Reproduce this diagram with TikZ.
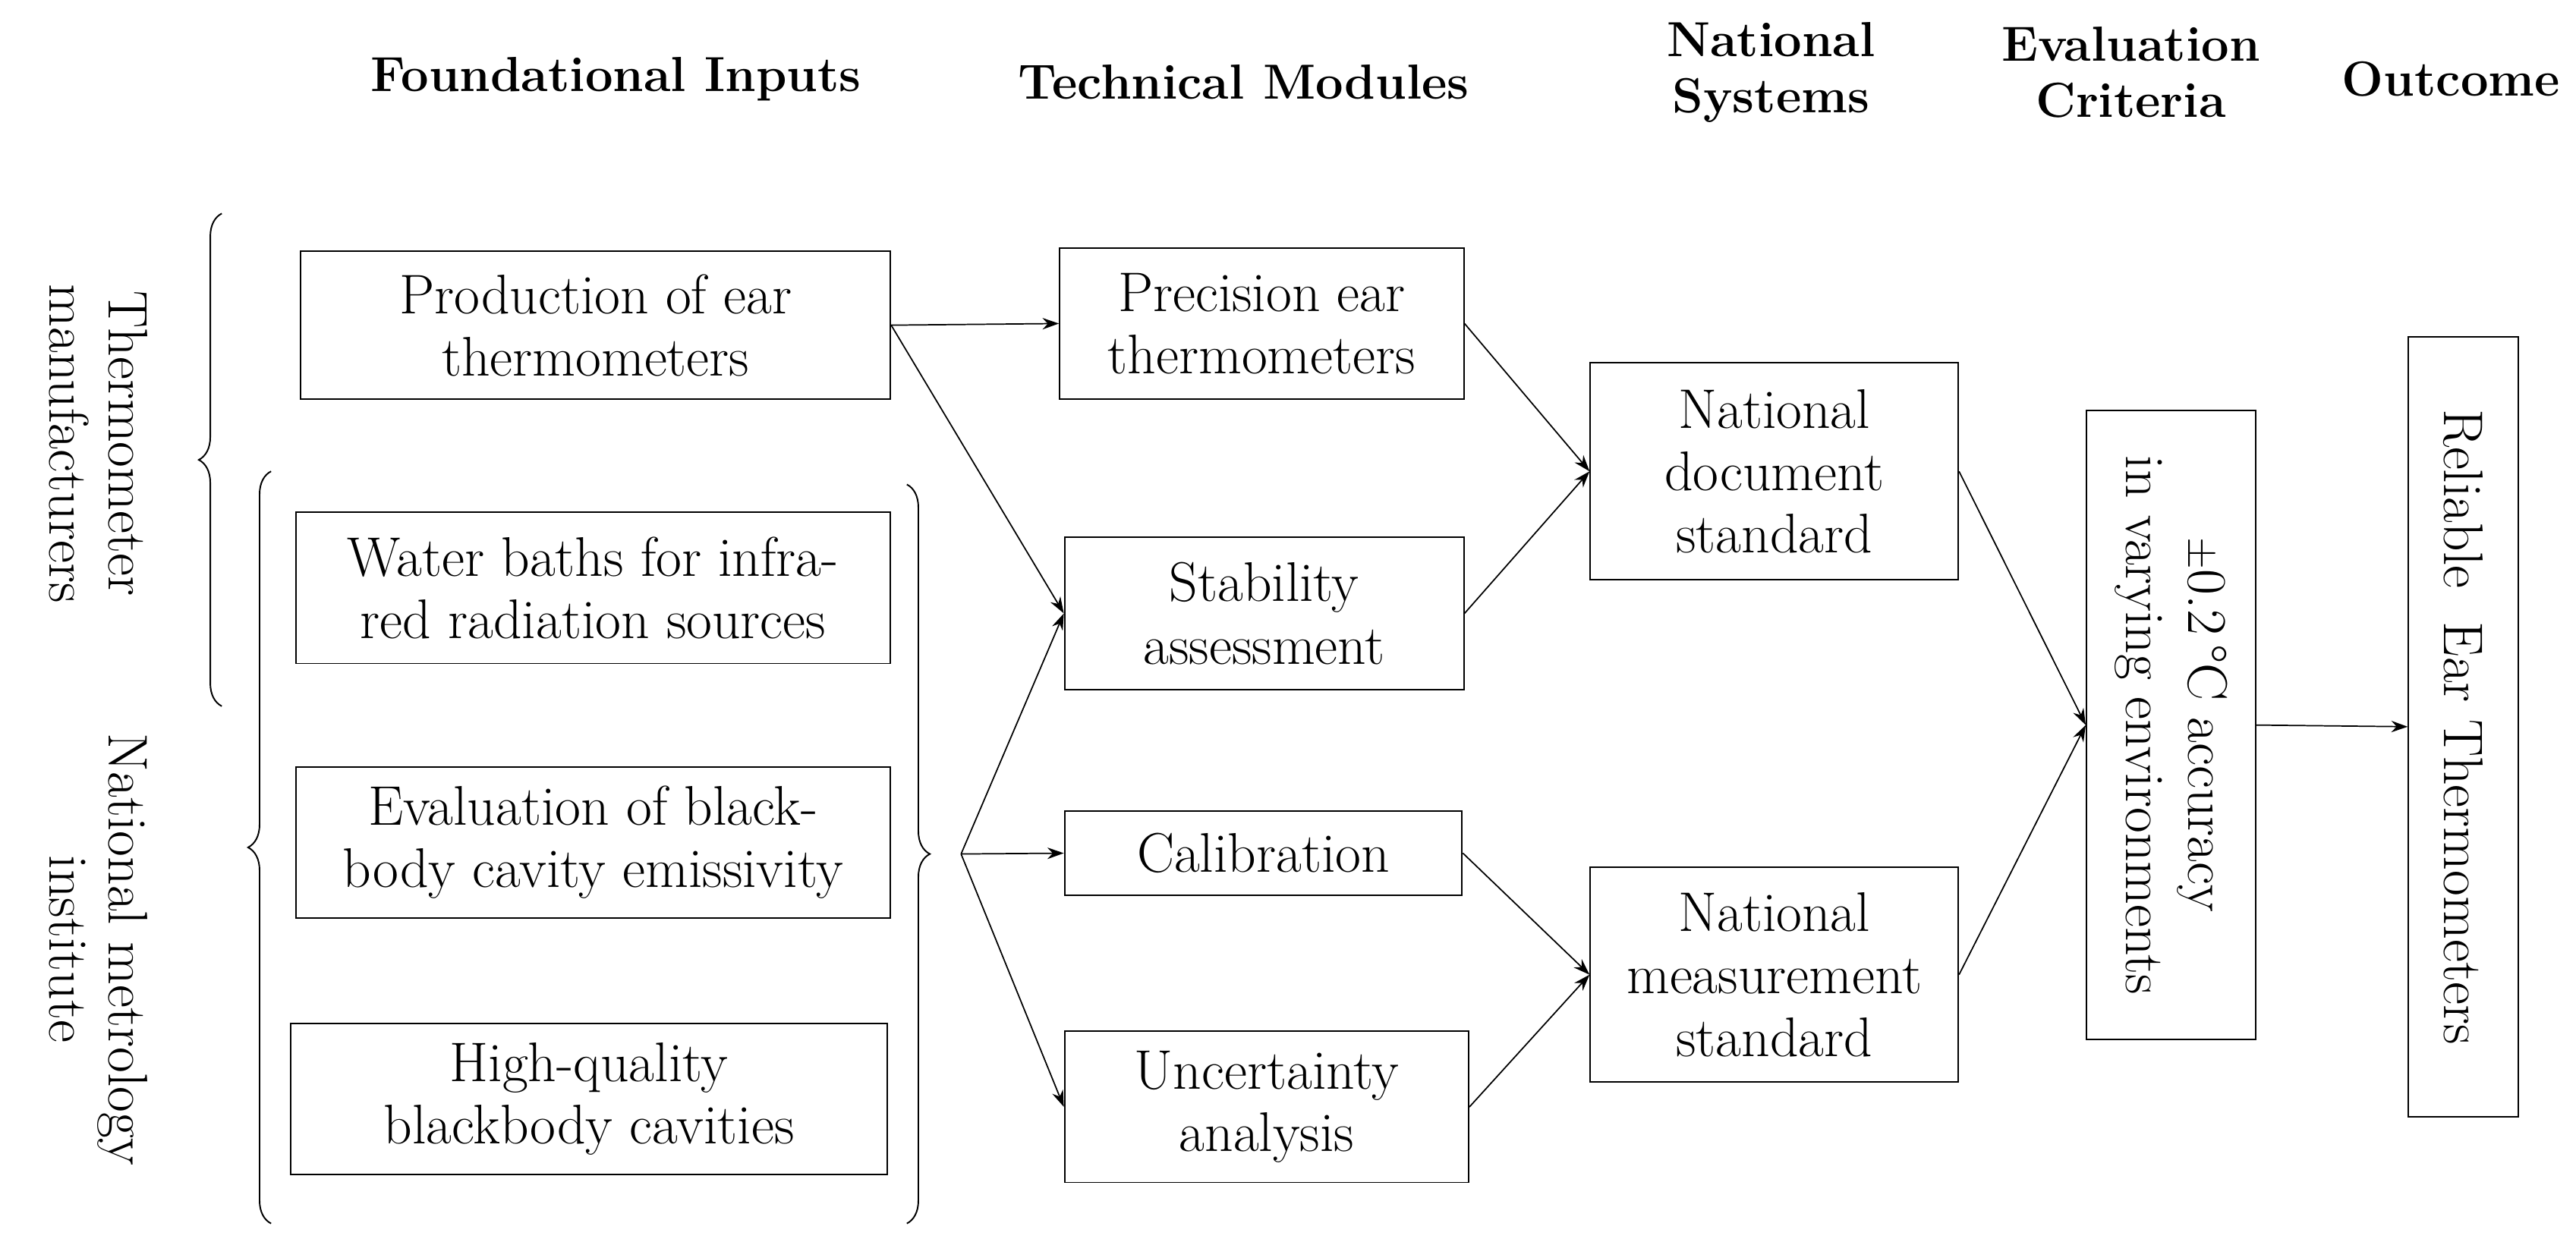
\documentclass[tikz,border=0pt]{standalone}
\usetikzlibrary{decorations.pathreplacing,arrows.meta}
\begin{document}
\begin{tikzpicture}[x=1pt,y=-1pt,
  box/.style={draw,line width=0.9pt,inner sep=0pt,align=center,font=\fontsize{34}{38}\selectfont},
  hd/.style={font=\bfseries\fontsize{30}{34}\selectfont,align=center},
  lab/.style={font=\fontsize{34}{36}\selectfont,align=center,rotate=-90},
  arr/.style={-{Stealth[length=10pt,width=7pt]},line width=0.8pt},
  br/.style={decorate,decoration={brace,amplitude=14pt},line width=0.9pt}]
\useasboundingbox (0,0) rectangle (1568,756);
\node[hd] (h1) at (375,48) {Foundational Inputs};
\node[hd] (h2) at (757,50) {Technical Modules};
\node[hd] (h3) at (1078,44) {National\\Systems};
\node[hd] (h4) at (1297,44) {Evaluation\\Criteria};
\node[hd] (h5) at (1492,48) {Outcome};
\node[box,minimum width=359pt,minimum height=90pt] (A) at (362.5,198) {Production of ear\\thermometers};
\node[box,minimum width=362pt,minimum height=92pt] (B) at (361,358) {Water baths for infra-\\red radiation sources};
\node[box,minimum width=362pt,minimum height=92pt] (C) at (361,513) {Evaluation of black-\\body cavity emissivity};
\node[box,minimum width=363pt,minimum height=92pt] (D) at (358.5,669) {High-quality\\blackbody cavities};
\node[box,minimum width=246pt,minimum height=92pt] (P) at (768,197) {Precision ear\\thermometers};
\node[box,minimum width=243pt,minimum height=93pt] (S) at (769.5,373.5) {Stability\\assessment};
\node[box,minimum width=242pt,minimum height=51pt] (Ca) at (769,519.5) {Calibration};
\node[box,minimum width=246pt,minimum height=92pt] (U) at (771,674) {Uncertainty\\analysis};
\node[box,minimum width=224pt,minimum height=132pt] (ND) at (1080,287) {National\\document\\standard};
\node[box,minimum width=224pt,minimum height=131pt] (NM) at (1080,593.5) {National\\measurement\\standard};
\node[box,minimum width=383pt,minimum height=103pt,rotate=-90] (E) at (1321.5,441.5) {$\pm$0.2\,°C accuracy\\in varying environments};
\node[box,minimum width=475pt,minimum height=67pt,rotate=-90] (R) at (1499.5,442.5) {Reliable\ \ Ear Thermometers};
\draw[br] (135,430) -- (135,130);
\draw[br] (165,745) -- (165,287);
\draw[br] (552,295) -- (552,745);
\coordinate (bt) at (585,520);
\node[lab] (L1) at (60,270) {Thermometer\\manufacturers};
\node[lab] (L2) at (60,578) {National metrology\\institute};
\draw[arr] (A.east) -- (P.west);
\draw[arr] (A.east) -- (S.west);
\draw[arr] (bt) -- (S.west);
\draw[arr] (bt) -- (Ca.west);
\draw[arr] (bt) -- (U.west);
\draw[arr] (P.east) -- (ND.west);
\draw[arr] (S.east) -- (ND.west);
\draw[arr] (Ca.east) -- (NM.west);
\draw[arr] (U.east) -- (NM.west);
\draw[arr] (ND.east) -- (E.south);
\draw[arr] (NM.east) -- (E.south);
\draw[arr] (E.north) -- (R.south);
\end{tikzpicture}
\end{document}
